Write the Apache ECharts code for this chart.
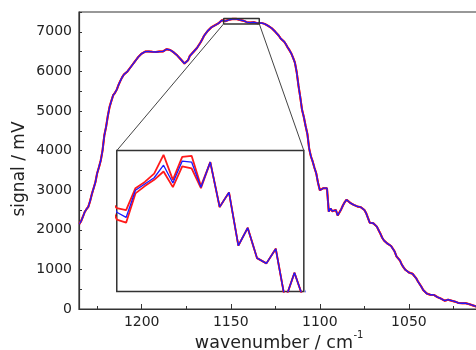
<!DOCTYPE html>
<html>
<head>
<meta charset="utf-8">
<script src="https://cdn.jsdelivr.net/npm/echarts@6/dist/echarts.min.js"></script>
<style>
  html, body { margin: 0; padding: 0; background: #fff; }
  #chart { width: 476px; height: 350px; }
</style>
</head>
<body>
<div id="chart"></div>
<script>
// spectrum: [wavenumber / cm-1, signal / mV]
const riseSegment = [
  [1235, 2150], [1234, 2220], [1233, 2330], [1232, 2450], [1231, 2520], [1230, 2580],
  [1229, 2720], [1228, 2900], [1227, 3050], [1226, 3200], [1225, 3430], [1224, 3580],
  [1223, 3750], [1222, 4000], [1221, 4380], [1220, 4600], [1219, 4880], [1218, 5110],
  [1217, 5260], [1216, 5400], [1215, 5460], [1214, 5540], [1213, 5660], [1212, 5760],
  [1211, 5850], [1210, 5920], [1209, 5960], [1208, 6000], [1207, 6060], [1206, 6110],
  [1205, 6180], [1204, 6240], [1203, 6300], [1202, 6360], [1201, 6410], [1200, 6450]
]
const plateauSegment = [
  [1199, 6480], [1198, 6500], [1197, 6510], [1196, 6505], [1195, 6520], [1194, 6495],
  [1193, 6515], [1192, 6490], [1191, 6510], [1190, 6500], [1189, 6510], [1188, 6505],
  [1187, 6530], [1186, 6560], [1185, 6570], [1184, 6540], [1183, 6510], [1182, 6480],
  [1181, 6440], [1180, 6400], [1179, 6350], [1178, 6300], [1177, 6250], [1176, 6200],
  [1175, 6170], [1174, 6280], [1173, 6390], [1172, 6440], [1171, 6490], [1170, 6470],
  [1169, 6590], [1168, 6660], [1167, 6730], [1166, 6810], [1165, 6900], [1164, 6960],
  [1163, 7020], [1162, 7070], [1161, 7110], [1160, 7140], [1159, 7160], [1158, 7190],
  [1157, 7210], [1156, 7250], [1155, 7290]
]
const zoomSegment = [
  [1154, 7276], [1153, 7271], [1152, 7297], [1151, 7303], [1150, 7309], [1149, 7321],
  [1148, 7304], [1147, 7325], [1146, 7324], [1145, 7300], [1144, 7324], [1143, 7281],
  [1142, 7295], [1141, 7244], [1140, 7261], [1139, 7232], [1138, 7227], [1137, 7241],
  [1136, 7192], [1135, 7218], [1134, 7192]
]
const fallSegment = [
  [1133, 7225], [1132, 7215], [1131, 7200], [1130, 7190], [1129, 7150], [1128, 7120],
  [1127, 7090], [1126, 7045], [1125, 7000], [1124, 6960], [1123, 6900], [1122, 6830],
  [1121, 6790], [1120, 6750], [1119, 6680], [1118, 6600], [1117, 6530], [1116, 6450],
  [1115, 6340], [1114, 6220], [1113, 5980], [1112, 5640], [1111, 5350], [1110, 5030],
  [1109, 4850], [1108, 4620], [1107, 4420], [1106, 4050], [1105, 3850], [1104, 3720],
  [1103, 3560], [1102, 3420], [1101, 3180], [1100, 3000], [1099, 3040], [1098, 3050],
  [1097, 3060], [1096, 3050], [1095, 2460], [1094, 2540], [1093, 2470], [1092, 2450],
  [1091, 2500], [1090, 2360], [1089, 2320], [1088, 2520], [1087, 2620], [1086, 2700],
  [1085, 2760], [1084, 2720], [1083, 2680], [1082, 2650], [1081, 2630], [1080, 2610],
  [1079, 2590], [1078, 2580], [1077, 2570], [1076, 2540], [1075, 2500], [1074, 2420],
  [1073, 2300], [1072, 2180], [1071, 2170], [1070, 2165], [1069, 2160], [1068, 2080],
  [1067, 1990]
]
const tailSegment = [
  [1066, 1900], [1065, 1800], [1064, 1730], [1063, 1690], [1062, 1650], [1061, 1620],
  [1060, 1590], [1059, 1550], [1058, 1450], [1057, 1330], [1056, 1280], [1055, 1220],
  [1054, 1120], [1053, 1050], [1052, 990], [1051, 950], [1050, 920], [1049, 910],
  [1048, 890], [1047, 850], [1046, 780], [1045, 700], [1044, 630], [1043, 560],
  [1042, 480], [1041, 430], [1040, 390], [1039, 355], [1038, 360], [1037, 355],
  [1036, 355], [1035, 330], [1034, 300], [1033, 280], [1032, 260], [1031, 230],
  [1030, 210], [1029, 220], [1028, 235], [1027, 225], [1026, 210], [1025, 195],
  [1024, 185], [1023, 170], [1022, 150], [1021, 145], [1020, 145], [1019, 150],
  [1018, 145], [1017, 145], [1016, 120], [1015, 100], [1014, 90], [1013, 75], [1012, 60]
]
// red traces: only differ from the blue one at the left end of the zoom window
const upperBand = [
  [1154, 7280], [1153, 7278], [1152, 7299], [1151, 7305], [1150, 7313],
  [1149, 7331], [1148, 7307], [1147, 7329], [1146, 7330], [1145, 7301]
]
const lowerBand = [
  [1154, 7269], [1153, 7266], [1152, 7294], [1151, 7301], [1150, 7307],
  [1149, 7315], [1148, 7300], [1147, 7320], [1146, 7318], [1145, 7299]
]

const xLabelValues = [1200, 1150, 1100, 1050]
const yLabelValues = [0, 1000, 2000, 3000, 4000, 5000, 6000, 7000]

// zoomed window (data units) and where the magnified view sits (main-plot data units)
const zoomWindow = { from: 1154, to: 1134, low: 7200, high: 7335 }
const insetFrame = { left: 1214, right: 1109, top: 4000, bottom: 440 }

const FONT = 'DejaVu Sans'
const BLUE = '#1a1aff'
const RED = '#ff1a1a'
const FRAME = '#333'

const spectrum = [].concat(riseSegment, plateauSegment, zoomSegment, fallSegment, tailSegment)
const upperMap = new Map(upperBand)
const lowerMap = new Map(lowerBand)
const upperTrace = spectrum.map(([w, v]) => [w, upperMap.has(w) ? upperMap.get(w) : v])
const lowerTrace = spectrum.map(([w, v]) => [w, lowerMap.has(w) ? lowerMap.get(w) : v])

const zw = zoomWindow
const windowOutline = [[zw.from, zw.low], [zw.from, zw.high], [zw.to, zw.high], [zw.to, zw.low], [zw.from, zw.low]]
const leftConnector = [[zw.from, zw.low], [insetFrame.left, insetFrame.top]]
const rightConnector = [[zw.to, zw.low], [insetFrame.right, insetFrame.top]]

function line(data, color, width, axis) {
  return {
    type: 'line',
    data,
    xAxisIndex: axis,
    yAxisIndex: axis === 2 ? 1 : 0,
    symbol: 'none',
    showSymbol: false,
    silent: true,
    animation: false,
    lineStyle: { color, width },
    itemStyle: { color }
  }
}

const chart = echarts.init(document.getElementById('chart'), null, { renderer: 'canvas' })

const option = {
  animation: false,
  backgroundColor: '#fff',
  grid: [
    { left: 79, top: 12, width: 419, height: 297, show: true, borderColor: FRAME, borderWidth: 1.2,
      backgroundColor: 'transparent', containLabel: false, outerBoundsMode: 'none' },
    { left: 117, top: 151, width: 187, height: 141, show: true, borderColor: FRAME, borderWidth: 1.5,
      backgroundColor: '#fff', containLabel: false, outerBoundsMode: 'none' }
  ],
  xAxis: [
    {
      gridIndex: 0, type: 'value', min: 1000, max: 1235.2, interval: 50, inverse: true, position: 'bottom',
      axisLine: { show: true, lineStyle: { color: FRAME, width: 1.2 } },
      axisTick: { show: true, inside: true, length: 5, lineStyle: { color: FRAME } },
      axisLabel: {
        margin: 6, color: '#222', fontFamily: FONT, fontSize: 14,
        formatter: (v) => (xLabelValues.includes(v) ? String(v) : '')
      },
      splitLine: { show: false }
    },
    {
      gridIndex: 0, type: 'value', min: 1000, max: 1235.2, interval: 25, inverse: true, position: 'bottom',
      axisLine: { show: false },
      axisTick: { show: true, inside: true, length: 3, lineStyle: { color: FRAME } },
      axisLabel: { show: false },
      splitLine: { show: false }
    },
    { gridIndex: 1, type: 'value', min: zw.to, max: zw.from, inverse: true, show: false }
  ],
  yAxis: [
    {
      gridIndex: 0, type: 'value', min: 0, max: 7500, interval: 500,
      axisLine: { show: true, lineStyle: { color: FRAME, width: 1.2 } },
      axisTick: { show: true, inside: true, length: 3, lineStyle: { color: FRAME } },
      axisLabel: {
        margin: 7, color: '#222', fontFamily: FONT, fontSize: 14,
        formatter: (v) => (yLabelValues.includes(v) ? String(v) : '')
      },
      splitLine: { show: false }
    },
    { gridIndex: 1, type: 'value', min: zw.low, max: zw.high, show: false }
  ],
  series: [
    line(upperTrace, RED, 2, 0),
    line(lowerTrace, RED, 2, 0),
    line(spectrum, BLUE, 1.3, 0),
    line(windowOutline, FRAME, 1.5, 0),
    line(leftConnector, '#444', 1, 0),
    line(rightConnector, '#444', 1, 0),
    line(upperTrace, RED, 1.8, 2),
    line(lowerTrace, RED, 1.8, 2),
    line(spectrum, BLUE, 1.3, 2)
  ],
  graphic: [
    {
      type: 'text', x: 20, y: 169, rotation: Math.PI / 2,
      style: { text: 'signal / mV', font: '17px "DejaVu Sans"', fill: '#222',
        align: 'center', verticalAlign: 'middle', textAlign: 'center', textVerticalAlign: 'middle' }
    },
    {
      type: 'text', x: 353, y: 343.2,
      style: { text: 'wavenumber / cm', font: '17.5px "DejaVu Sans"', fill: '#222',
        align: 'right', verticalAlign: 'middle', textAlign: 'right', textVerticalAlign: 'middle' }
    },
    {
      type: 'text', x: 353.5, y: 335.8,
      style: { text: '-1', font: '10px "DejaVu Sans"', fill: '#222',
        align: 'left', verticalAlign: 'middle', textAlign: 'left', textVerticalAlign: 'middle' }
    }
  ]
}

chart.setOption(option)

// place the magnified view where the connector lines end
const tl = chart.convertToPixel({ gridIndex: 0 }, [insetFrame.left, insetFrame.top])
const br = chart.convertToPixel({ gridIndex: 0 }, [insetFrame.right, insetFrame.bottom])
chart.setOption({
  grid: [{}, { left: tl[0], top: tl[1], width: br[0] - tl[0], height: br[1] - tl[1] }]
})
</script>
</body>
</html>
